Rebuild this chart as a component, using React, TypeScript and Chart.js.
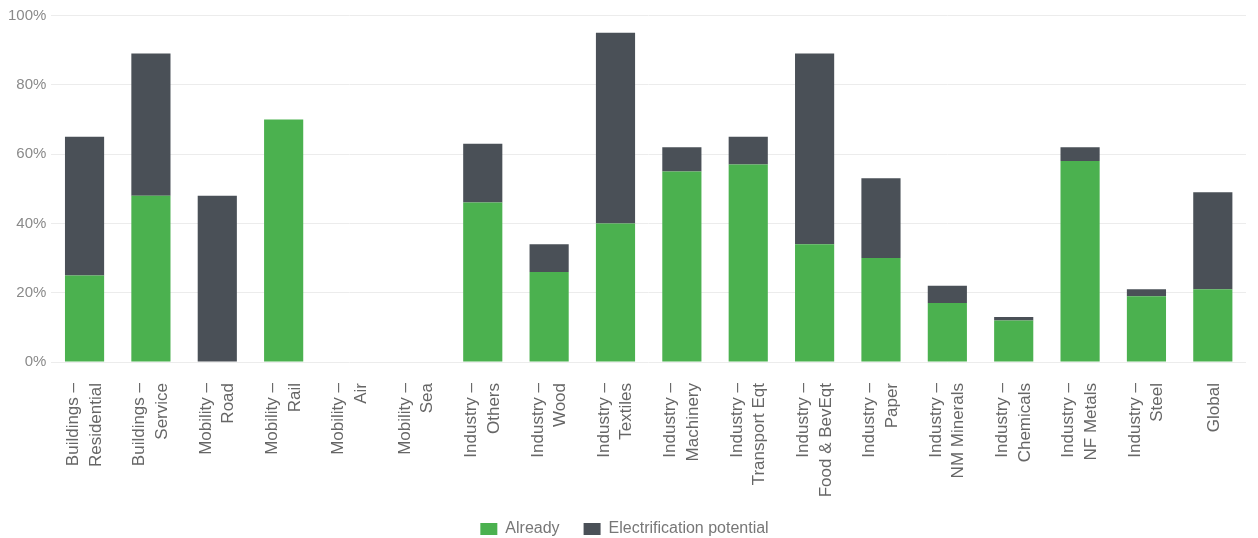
import React, { useEffect, useRef } from "react";
import { Chart, registerables } from "chart.js";

Chart.register(...registerables);

// Sector categories (two-line tick labels)
const categories: string[][] = [
  ["Buildings –", "Residential"],
  ["Buildings –", "Service"],
  ["Mobility –", "Road"],
  ["Mobility –", "Rail"],
  ["Mobility –", "Air"],
  ["Mobility –", "Sea"],
  ["Industry –", "Others"],
  ["Industry –", "Wood"],
  ["Industry –", "Textiles"],
  ["Industry –", "Machinery"],
  ["Industry –", "Transport Eqt"],
  ["Industry –", "Food & BevEqt"],
  ["Industry –", "Paper"],
  ["Industry –", "NM Minerals"],
  ["Industry –", "Chemicals"],
  ["Industry –", "NF Metals"],
  ["Industry –", "Steel"],
  ["Global"],
];

// Share already electrified (%)
const already: number[] = [25, 48, 0, 70, 0, 0, 46, 26, 40, 55, 57, 34, 30, 17, 12, 58, 19, 21];

// Additional electrification potential on top of the current share (%)
const potential: number[] = [40, 41, 48, 0, 0, 0, 17, 8, 55, 7, 8, 55, 23, 5, 1, 4, 2, 28];

const yTicks: number[] = [0, 20, 40, 60, 80, 100];

const FONT = "Liberation Sans, Arial, Helvetica, sans-serif";
const X_FONT_SIZE = 17;
const X_LINE = 1.33;

export default function App() {
  const canvasRef = useRef<HTMLCanvasElement | null>(null);

  useEffect(() => {
    if (!canvasRef.current) return;
    const chart = new Chart(canvasRef.current, {
      type: "bar",
      data: {
        labels: categories,
        datasets: [
          {
            label: "Already",
            data: already,
            backgroundColor: "#4bb14f",
            barPercentage: 0.59,
            categoryPercentage: 1,
          },
          {
            label: "Electrification potential",
            data: potential,
            backgroundColor: "#4a5057",
            barPercentage: 0.59,
            categoryPercentage: 1,
          },
        ],
      },
      options: {
        animation: false,
        responsive: false,
        maintainAspectRatio: false,
        layout: { padding: { left: 3, right: 12, top: 15.5, bottom: 0 } },
        plugins: {
          legend: {
            position: "bottom",
            labels: {
              boxWidth: 17,
              boxHeight: 12,
              padding: 24,
              color: "#777",
              font: { family: FONT, size: 16 },
            },
          },
          tooltip: { enabled: false },
        },
        scales: {
          x: {
            stacked: true,
            grid: { display: false, tickLength: 0 },
            border: { display: false },
            afterFit: (scale: any) => {
              scale.height = 135;
              // rotated labels fit inside their categories; no extra side room needed
              scale.paddingLeft = 0;
              scale.paddingRight = 0;
            },
            ticks: {
              minRotation: 90,
              maxRotation: 90,
              autoSkip: false,
              color: "#666",
              padding: 21,
              // centre each two-line block on its bar
              labelOffset: -(X_FONT_SIZE * X_LINE) / 2,
              callback: (_v: any, i: number) => {
                const lbl = categories[i];
                return lbl.length === 1 ? ["", lbl[0]] : lbl;
              },
              // single-line labels use a half step so they sit on the bar centre
              font: (ctx: any) => ({
                family: FONT,
                size: X_FONT_SIZE,
                lineHeight: categories[ctx.index]?.length === 1 ? X_LINE * 0.56 : X_LINE,
              }),
            },
          },
          y: {
            stacked: true,
            min: 0,
            max: 100,
            afterBuildTicks: (axis: any) => {
              axis.ticks = yTicks.map((v) => ({ value: v }));
            },
            grid: { color: "#ececec", drawTicks: false },
            border: { display: false },
            ticks: {
              color: "#8a8a8a",
              padding: 5,
              font: { family: FONT, size: 15 },
              callback: (v: any) => `${v}%`,
            },
          },
        },
      },
    });
    return () => chart.destroy();
  }, []);

  return (
    <div style={{ position: "absolute", left: 0, top: 0, width: 1258, height: 538, overflow: "hidden", background: "#fff" }}>
      <canvas ref={canvasRef} width={1258} height={547} />
    </div>
  );
}
